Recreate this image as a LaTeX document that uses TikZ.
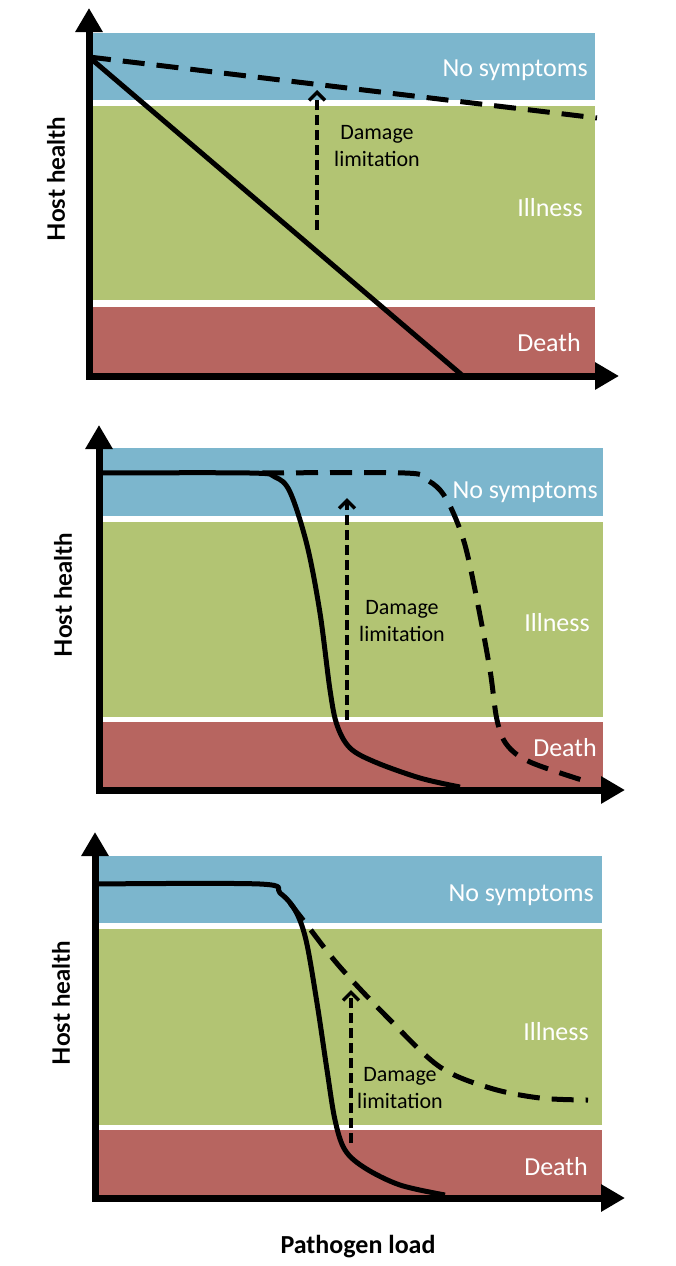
\documentclass[tikz,border=0pt]{standalone}
\usepackage{fontspec}
\setmainfont{Carlito}
\newfontfamily\axisfont{Lato}
\usetikzlibrary{arrows.meta}
\definecolor{symblue}{RGB}{124,182,205}
\definecolor{illgreen}{RGB}{178,196,115}
\definecolor{deathred}{RGB}{183,101,96}
\begin{document}
\begin{tikzpicture}[x=1pt,y=-1pt,
    axis/.style={line width=7pt,line cap=rect,-{Triangle[width=26pt,length=24pt]}},
    curve/.style={line width=5pt,line join=round},
    dashcurve/.style={curve,dash pattern=on 22pt off 12pt},
    limit/.style={line width=3.5pt,dash pattern=on 10pt off 5pt,-{Straight Barb[width=16pt,length=8pt]}},
    zone/.style={text=white,inner sep=0pt,anchor=east,font=\fontsize{26}{30}\selectfont},
    note/.style={align=center,inner sep=0pt,font=\fontsize{22}{27}\selectfont},
    ylabel/.style={rotate=90,inner sep=0pt,font=\axisfont\bfseries\fontsize{24}{28}\selectfont}]
  \useasboundingbox (0,0) rectangle (676,1266);

  % top panel: linear decline
  \fill[symblue] (92,33) rectangle (595,100);
  \fill[illgreen] (92,106) rectangle (595,300);
  \fill[deathred] (92,307) rectangle (595,373);
  \node[zone] (sym1) at (588,70) {No symptoms};
  \node[zone] (ill1) at (583,208) {Illness};
  \node[zone] (dth1) at (581,343) {Death};
  \coordinate (o1) at (89,376);
  \coordinate (ytip1) at (89,8);
  \coordinate (xtip1) at (619,376);
  \coordinate (h1) at (89,57);
  \coordinate (e1) at (463,376);
  \coordinate (f1) at (597,118);
  \draw[curve] (h1) -- (e1);
  \draw[dashcurve] (h1) -- (f1);
  \coordinate (dl1a) at (317,230);
  \coordinate (dl1b) at (317,90);
  \draw[limit] (dl1a) -- (dl1b);
  \node[note] (dmg1) at (377,146) {Damage\\limitation};
  \draw[axis] (o1) -- (ytip1);
  \draw[axis] (o1) -- (xtip1);
  \node[ylabel] (hh1) at (56,179) {Host health};

  % middle panel: shifted threshold
  \fill[symblue] (99,448) rectangle (603,516);
  \fill[illgreen] (99,522) rectangle (603,717);
  \fill[deathred] (99,722) rectangle (603,787);
  \node[zone] (sym2) at (598,492) {No symptoms};
  \node[zone] (ill2) at (590,623) {Illness};
  \node[zone] (dth2) at (597,748) {Death};
  \draw[curve] plot[smooth,tension=0.55] coordinates {(99,473) (250,473) (275,477) (290,492)
    (307,545) (320,613) (330,690) (337,725) (350,748) (375,762) (420,778) (460,787)};
  \draw[dashcurve] plot[smooth,tension=0.55] coordinates {(262,473) (405,473) (425,479) (440,490)
    (452,510) (465,545) (477,600) (490,670) (497,720) (507,745) (530,762) (585,781)};
  \coordinate (dl2a) at (347,720);
  \coordinate (dl2b) at (347,498);
  \draw[limit] (dl2a) -- (dl2b);
  \node[note] (dmg2) at (402,621) {Damage\\limitation};
  \coordinate (o2) at (99,790);
  \coordinate (ytip2) at (99,425);
  \coordinate (xtip2) at (625,790);
  \draw[axis] (o2) -- (ytip2);
  \draw[axis] (o2) -- (xtip2);
  \node[ylabel] (hh2) at (63,595) {Host health};

  % bottom panel: flatter decline
  \fill[symblue] (95,856) rectangle (602,923);
  \fill[illgreen] (95,929) rectangle (602,1125);
  \fill[deathred] (95,1130) rectangle (602,1195);
  \node[zone] (sym3) at (594,895) {No symptoms};
  \node[zone] (ill3) at (589,1032) {Illness};
  \node[zone] (dth3) at (588,1167) {Death};
  \draw[curve] plot[smooth,tension=0.55] coordinates {(95,884) (260,884) (280,893) (295,910)
    (306,940) (317,1003) (327,1070) (335,1120) (345,1150) (365,1168) (400,1185) (445,1195)};
  \draw[dashcurve] plot[smooth,tension=0.55] coordinates {(290,903) (307,925) (340,967)
    (390,1020) (440,1067) (490,1088) (540,1098) (588,1100)};
  \coordinate (dl3a) at (351,1143);
  \coordinate (dl3b) at (351,990);
  \draw[limit] (dl3a) -- (dl3b);
  \node[note] (dmg3) at (400,1088) {Damage\\limitation};
  \coordinate (o3) at (95,1198);
  \coordinate (ytip3) at (95,832);
  \coordinate (xtip3) at (625,1198);
  \draw[axis] (o3) -- (ytip3);
  \draw[axis] (o3) -- (xtip3);
  \node[ylabel] (hh3) at (61,1003) {Host health};
  \node[inner sep=0pt,font=\bfseries\fontsize{26}{30}\selectfont] (load) at (358,1247) {Pathogen load};
\end{tikzpicture}
\end{document}
